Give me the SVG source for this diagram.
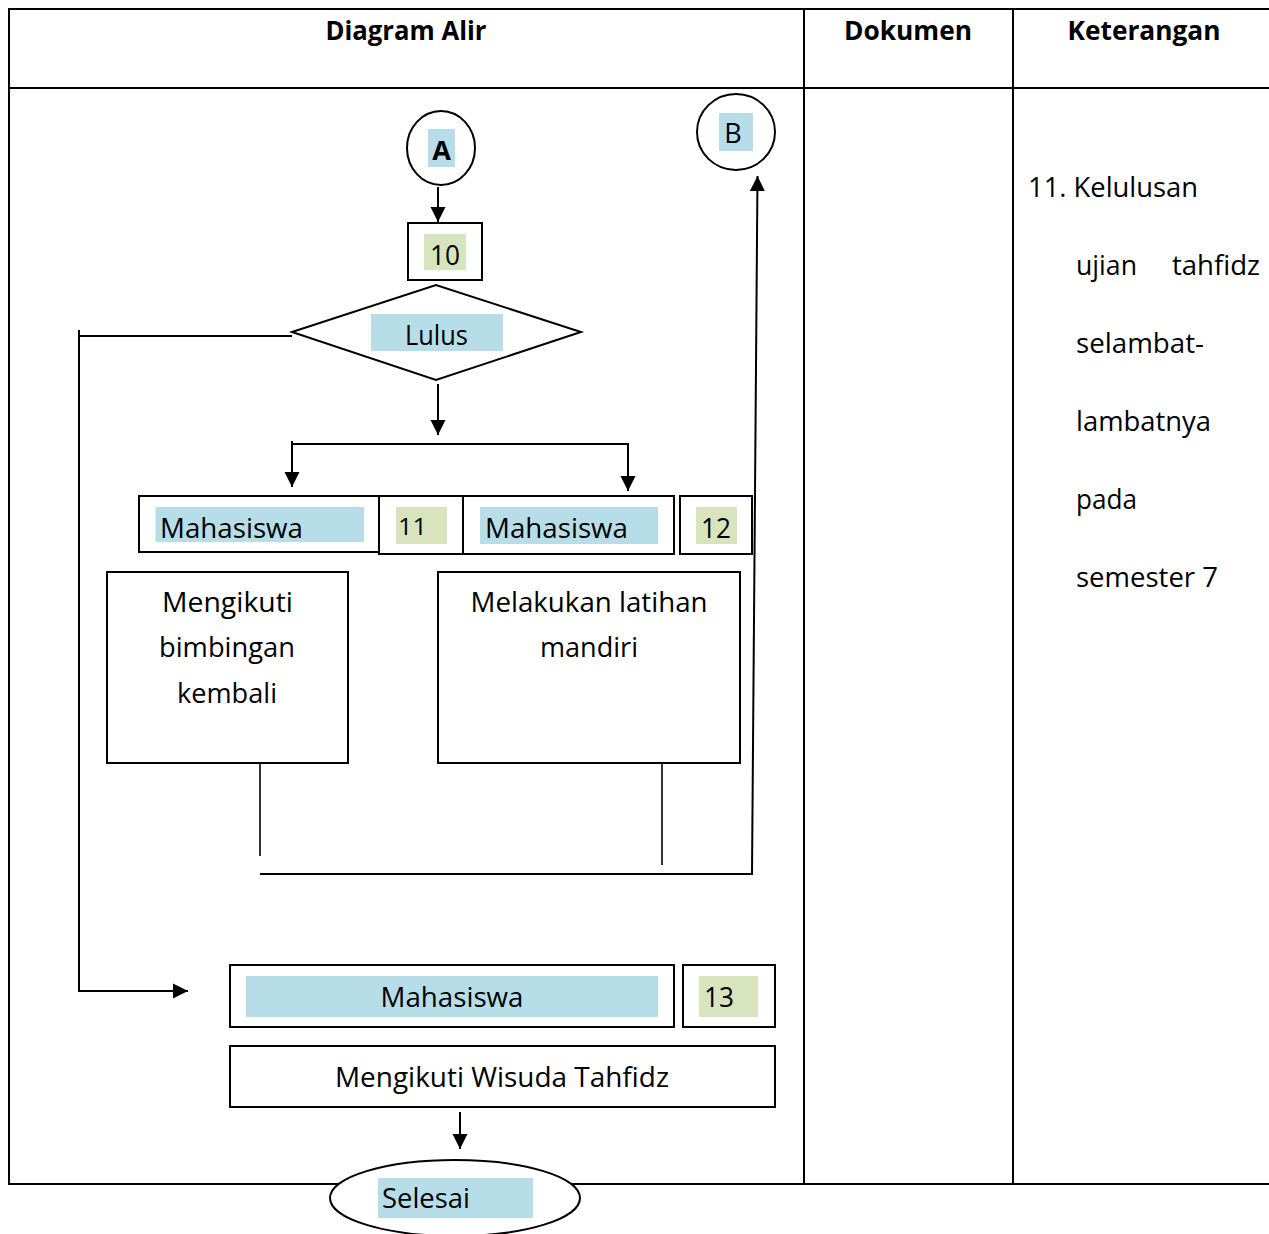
<svg xmlns="http://www.w3.org/2000/svg" width="1269" height="1234" viewBox="0 0 1269 1234">
<style>
.t{font-family:"Open Sans","Noto Sans","Liberation Sans",sans-serif;font-size:27px;fill:#000}
.b{font-weight:bold}
.m{text-anchor:middle}
.ln{fill:none;stroke:#000;stroke-width:2}
.thin{fill:none;stroke:#000;stroke-width:1.6}
.box{fill:#fff;stroke:#000;stroke-width:2}
.blue{fill:#B7DDE8}
.green{fill:#D7E4BD}
</style>
<defs>
<marker id="ah" markerUnits="userSpaceOnUse" markerWidth="16" markerHeight="16" viewBox="0 0 16 16" refX="15" refY="8" orient="auto">
<path d="M0,0.5 L15,8 L0,15.5 z" fill="#000"/>
</marker>
</defs>
<rect width="1269" height="1234" fill="#fff"/>
<g id="table">
<path class="ln" d="M9,9 H1269 M9,88 H1269 M9,1184 H1269 M9,8 V1185 M804,8 V1185 M1013,8 V1185"/>
<text class="t b m" x="406" y="40" textLength="161" lengthAdjust="spacingAndGlyphs">Diagram Alir</text>
<text class="t b m" x="908" y="40" textLength="128" lengthAdjust="spacingAndGlyphs">Dokumen</text>
<text class="t b m" x="1144" y="40" textLength="153" lengthAdjust="spacingAndGlyphs">Keterangan</text>
</g>
<g id="keterangan">
<text class="t" x="1028" y="197" textLength="170" lengthAdjust="spacingAndGlyphs">11. Kelulusan</text>
<text class="t" x="1076" y="275" textLength="61" lengthAdjust="spacingAndGlyphs">ujian</text>
<text class="t" x="1172" y="275" textLength="88" lengthAdjust="spacingAndGlyphs">tahfidz</text>
<text class="t" x="1076" y="353" textLength="128" lengthAdjust="spacingAndGlyphs">selambat-</text>
<text class="t" x="1076" y="431" textLength="135" lengthAdjust="spacingAndGlyphs">lambatnya</text>
<text class="t" x="1076" y="509" textLength="61" lengthAdjust="spacingAndGlyphs">pada</text>
<text class="t" x="1076" y="587" textLength="142" lengthAdjust="spacingAndGlyphs">semester 7</text>
</g>
<g id="connectors">
<path class="ln" d="M438,187 V222" marker-end="url(#ah)"/>
<path class="ln" d="M292,336 H79"/>
<path class="ln" d="M79,330 V991 H188" marker-end="url(#ah)"/>
<path class="ln" d="M438,384 V435" marker-end="url(#ah)"/>
<path class="ln" d="M292,441 V487" marker-end="url(#ah)"/>
<path class="ln" d="M292,444 H628 V491" marker-end="url(#ah)"/>
<path class="thin" d="M260,764 V856"/>
<path class="thin" d="M662,764 V865"/>
<path class="ln" d="M260,874 H752 L757.5,176" marker-end="url(#ah)"/>
<path class="ln" d="M460,1112 V1149" marker-end="url(#ah)"/>
</g>
<g id="nodeA">
<ellipse class="box" cx="441" cy="148" rx="34" ry="37"/>
<rect class="blue" x="428" y="129" width="27" height="38"/>
<text class="t b m" x="441.5" y="160">A</text>
</g>
<g id="nodeB">
<ellipse class="box" cx="736" cy="132" rx="39" ry="38"/>
<rect class="blue" x="719" y="113" width="34" height="38"/>
<text class="t m" x="733" y="143">B</text>
</g>
<g id="node10">
<rect class="box" x="408" y="223" width="74" height="57"/>
<rect class="green" x="424" y="234" width="42" height="36"/>
<text class="t m" x="445" y="265" textLength="30" lengthAdjust="spacingAndGlyphs">10</text>
</g>
<g id="lulus">
<polygon class="box" points="292,332 436,285 581,332 436,380"/>
<rect class="blue" x="371" y="314" width="132" height="37"/>
<text class="t m" x="436.5" y="345" textLength="63" lengthAdjust="spacingAndGlyphs">Lulus</text>
</g>
<g id="mhs11">
<rect class="box" x="139" y="496" width="240" height="56"/>
<rect class="blue" x="155.5" y="507" width="208.5" height="35"/>
<text class="t" x="160" y="538" textLength="143" lengthAdjust="spacingAndGlyphs">Mahasiswa</text>
</g>
<g id="num11">
<rect class="box" x="379" y="496" width="84" height="58"/>
<rect class="green" x="396" y="507" width="51" height="37"/>
<text class="t" x="398" y="535" style="font-size:24px" textLength="29" lengthAdjust="spacingAndGlyphs">11</text>
</g>
<g id="mhs12">
<rect class="box" x="463" y="496" width="211" height="58"/>
<rect class="blue" x="480" y="507" width="178" height="37"/>
<text class="t" x="485" y="538" textLength="143" lengthAdjust="spacingAndGlyphs">Mahasiswa</text>
</g>
<g id="num12">
<rect class="box" x="680" y="496" width="72" height="58"/>
<rect class="green" x="696" y="507" width="41" height="37"/>
<text class="t" x="701" y="538" textLength="30" lengthAdjust="spacingAndGlyphs">12</text>
</g>
<g id="bimbingan">
<rect class="box" x="107" y="572" width="241" height="191"/>
<text class="t m" x="227.5" y="612" textLength="131" lengthAdjust="spacingAndGlyphs">Mengikuti</text>
<text class="t m" x="227" y="657" textLength="136" lengthAdjust="spacingAndGlyphs">bimbingan</text>
<text class="t m" x="227" y="703" textLength="100" lengthAdjust="spacingAndGlyphs">kembali</text>
</g>
<g id="latihan">
<rect class="box" x="438" y="572" width="302" height="191"/>
<text class="t m" x="589" y="612" textLength="237" lengthAdjust="spacingAndGlyphs">Melakukan latihan</text>
<text class="t m" x="589" y="657" textLength="98" lengthAdjust="spacingAndGlyphs">mandiri</text>
</g>
<g id="mhs13">
<rect class="box" x="230" y="965" width="444" height="62"/>
<rect class="blue" x="246" y="976" width="412" height="41"/>
<text class="t m" x="452" y="1007" textLength="143" lengthAdjust="spacingAndGlyphs">Mahasiswa</text>
</g>
<g id="num13">
<rect class="box" x="683" y="965" width="92" height="62"/>
<rect class="green" x="699" y="976" width="59" height="41"/>
<text class="t" x="704" y="1007" textLength="30" lengthAdjust="spacingAndGlyphs">13</text>
</g>
<g id="wisuda">
<rect class="box" x="230" y="1046" width="545" height="61"/>
<text class="t m" x="502" y="1087" textLength="334" lengthAdjust="spacingAndGlyphs">Mengikuti Wisuda Tahfidz</text>
</g>
<g id="selesai">
<ellipse class="box" cx="455" cy="1198" rx="125" ry="38"/>
<rect class="blue" x="378" y="1178" width="155" height="40"/>
<text class="t" x="382" y="1208" textLength="88" lengthAdjust="spacingAndGlyphs">Selesai</text>
</g>
</svg>
